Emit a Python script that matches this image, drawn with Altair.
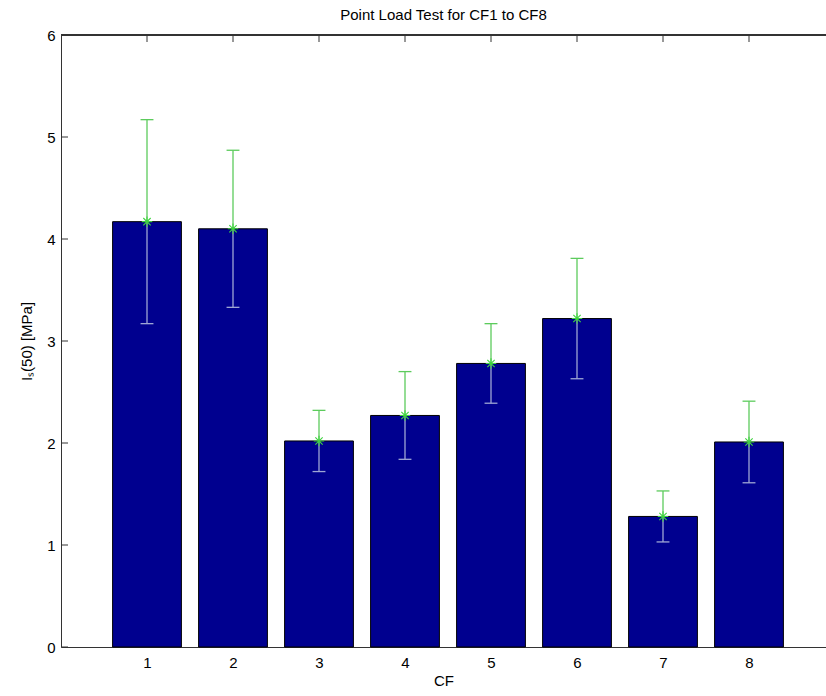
import altair as alt
import pandas as pd

cf = [1, 2, 3, 4, 5, 6, 7, 8]
means = [4.17, 4.10, 2.02, 2.27, 2.78, 3.22, 1.28, 2.01]
errs = [1.00, 0.77, 0.30, 0.43, 0.39, 0.59, 0.25, 0.40]
yticks = [0, 1, 2, 3, 4, 5, 6]

df = pd.DataFrame({"cf": cf, "mean": means, "err": errs})
tdf = pd.DataFrame({"t": yticks})

FONT = "Liberation Sans"
W, H = 765, 612
xscale = alt.Scale(domain=[0, W / 86.0], nice=False, zero=False)
yscale = alt.Scale(domain=[0, 6], nice=False)

base = alt.Chart(df).transform_calculate(
    lo="datum.mean - datum.err",
    hi="datum.mean + datum.err",
    bx1="datum.cf - 0.4",
    bx2="datum.cf + 0.4",
    cx1="datum.cf - 0.075",
    cx2="datum.cf + 0.075",
)

bars = base.mark_bar(color="#00008f", stroke="#000000", strokeWidth=1).encode(
    x=alt.X("bx1:Q", scale=xscale,
            axis=alt.Axis(values=cf, title="CF", tickSize=0, labelPadding=8,
                          titlePadding=3, grid=False, domainColor="#333333",
                          labelFontSize=15, titleFontSize=15, labelFont=FONT,
                          titleFont=FONT, titleFontWeight="normal",
                          labelColor="#000", titleColor="#000", format="d")),
    x2="bx2:Q",
    y=alt.Y("mean:Q", scale=yscale,
            axis=alt.Axis(values=yticks, title="Iₛ(50) [MPa]", tickSize=0,
                          labelPadding=6, titlePadding=12, grid=False,
                          domainColor="#333333", labelFontSize=15,
                          titleFontSize=15, labelFont=FONT, titleFont=FONT,
                          titleFontWeight="normal", labelColor="#000",
                          titleColor="#000", format="d")),
    y2=alt.datum(0),
)

GREEN = "#5ccb5c"
LAV = "#9ea6d4"

up = base.mark_rule(color=GREEN, strokeWidth=1.3).encode(
    x="cf:Q", y="mean:Q", y2="hi:Q")
down = base.mark_rule(color=LAV, strokeWidth=1.3).encode(
    x="cf:Q", y="lo:Q", y2="mean:Q")
cap_up = base.mark_rule(color=GREEN, strokeWidth=1.3).encode(
    x="cx1:Q", x2="cx2:Q", y="hi:Q")
cap_dn = base.mark_rule(color=LAV, strokeWidth=1.3).encode(
    x="cx1:Q", x2="cx2:Q", y="lo:Q")

star = base.mark_point(
    shape="M-1,0L1,0M0,-1L0,1M-0.7,-0.7L0.7,0.7M-0.7,0.7L0.7,-0.7",
    filled=False, stroke="#3fd33f", strokeWidth=1.1, size=110, opacity=1,
).encode(x="cf:Q", y="mean:Q")

top_ticks = base.mark_rule(color="#333333").encode(
    x="cf:Q", y=alt.value(0), y2=alt.value(7))

left_ticks = alt.Chart(tdf).mark_rule(color="#333333").encode(
    y=alt.Y("t:Q", scale=yscale), x=alt.value(0), x2=alt.value(7))

frame_top = alt.Chart(tdf).mark_rule(color="#333333").encode(
    x=alt.value(0), x2=alt.value(W), y=alt.value(0))

chart = alt.layer(
    bars, down, cap_dn, up, cap_up, star, top_ticks, left_ticks, frame_top
).properties(
    width=W, height=H,
    title=alt.TitleParams("Point Load Test for CF1 to CF8", font=FONT,
                          fontSize=15, fontWeight="normal", color="#000",
                          offset=5),
    autosize=alt.AutoSizeParams(type="none"),
    padding={"left": 61, "top": 35, "right": 0, "bottom": 49},
).configure_view(stroke=None).configure(background="white")

chart.save("out.html", embed_options={"renderer": "svg", "actions": False})
